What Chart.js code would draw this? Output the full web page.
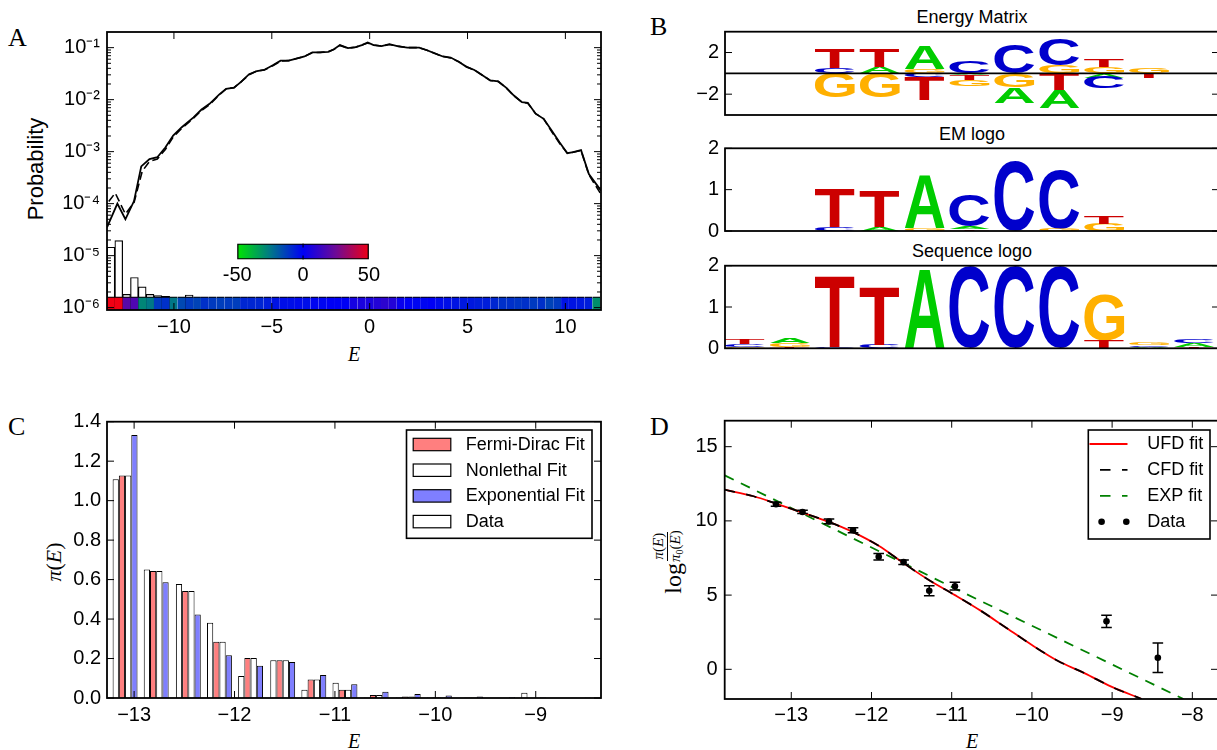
<!DOCTYPE html>
<html><head><meta charset="utf-8">
<script src="https://cdn.jsdelivr.net/npm/chart.js@4.4.1/dist/chart.umd.min.js"></script>
<style>
html,body{margin:0;padding:0;background:#fff;}
body{width:1217px;height:750px;overflow:hidden;position:relative;}
canvas{position:absolute;left:0;top:0;}
.t{position:absolute;white-space:nowrap;color:#000;}
.pl{font-family:"Liberation Serif",serif;font-size:26px;line-height:26px;}
.sans{font-family:"Liberation Sans",Arial,sans-serif;}
.serif{font-family:"Liberation Serif",serif;}
</style></head>
<body>
<div class="t pl" style="left:8px;top:25px">A</div>
<div class="t pl" style="left:650px;top:13.5px">B</div>
<div class="t pl" style="left:8px;top:414px">C</div>
<div class="t pl" style="left:650px;top:414px">D</div>
<div class="t sans" style="left:872px;width:200px;text-align:center;top:8px;font-size:18px;line-height:18px">Energy Matrix</div>
<div class="t sans" style="left:872px;width:200px;text-align:center;top:124.5px;font-size:18px;line-height:18px">EM logo</div>
<div class="t sans" style="left:872px;width:200px;text-align:center;top:242px;font-size:18px;line-height:18px">Sequence logo</div>
<div class="t serif" style="left:304px;width:100px;text-align:center;top:344.4px;font-size:20px;line-height:20px;font-style:italic">E</div>
<div class="t serif" style="left:304px;width:100px;text-align:center;top:730.7px;font-size:20px;line-height:20px;font-style:italic">E</div>
<div class="t serif" style="left:922px;width:100px;text-align:center;top:730.7px;font-size:20px;line-height:20px;font-style:italic">E</div>
<div class="t sans" style="left:-64px;top:157px;width:200px;height:24px;line-height:24px;font-size:22px;text-align:center;transform:rotate(-90deg)">Probability</div>
<div class="t serif" style="left:4px;top:549px;width:100px;height:26px;line-height:26px;font-size:22px;text-align:center;transform:rotate(-90deg)"><i>π</i>(<i>E</i>)</div>
<div class="t serif" style="left:613px;top:546px;width:120px;height:32px;transform:rotate(-90deg);display:flex;align-items:center;justify-content:center;">
<span style="font-size:24px;line-height:24px">log</span><span style="display:inline-flex;flex-direction:column;align-items:center;font-size:15px;line-height:15px;margin-left:1px;margin-top:-8px"><span style="border-bottom:1px solid #000;padding:0 1px 1px 1px"><i>π</i>(<i>E</i>)</span><span><i>π</i><span style="font-size:10px;vertical-align:-3px">0</span>(<i>E</i>)</span></span>
</div>
<script>
// ---------------- DATA ----------------
// Panel A: probability curves (E, P)
const aSolidE = [-13.42,-12.89,-12.48,-12.04,-11.67,-11.25,-10.85,-10.44,-10.04,-9.6,-9.0,-8.59,-8.18,-7.68,-7.33,-6.93,-6.57,-6.16,-5.76,-5.39,-4.95,-4.55,-4.14,-3.74,-3.33,-2.93,-2.53,-2.12,-1.82,-1.52,-1.11,-0.71,-0.40,-0.10,0.20,0.61,1.01,1.41,1.92,2.53,2.93,3.33,3.74,4.14,4.55,4.95,5.35,5.76,6.16,6.57,6.97,7.37,7.78,8.08,8.48,8.89,9.29,9.70,10.1,10.4,10.8,11.2,11.82];
const aSolidP = [3.5e-5,1.0e-4,5.0e-5,1.12e-4,5.2e-4,7.2e-4,7.8e-4,1.2e-3,2.04e-3,2.95e-3,4.57e-3,6.46e-3,8.3e-3,1.26e-2,1.62e-2,1.70e-2,2.19e-2,3.09e-2,3.55e-2,3.72e-2,4.57e-2,5.62e-2,5.62e-2,6.17e-2,6.76e-2,8.13e-2,8.13e-2,8.32e-2,9.33e-2,0.112,0.0977,0.102,0.112,0.126,0.112,0.107,0.117,0.107,0.100,0.100,0.0891,0.0776,0.0676,0.0646,0.0537,0.0427,0.0372,0.0295,0.0234,0.0224,0.0170,0.0120,0.00891,0.00871,0.00537,0.00427,0.00257,0.00151,0.000933,0.000977,0.00107,0.000372,0.000178];
const aDashE = [-13.33,-13.0,-12.48,-12.04,-11.62,-11.25,-10.85,-10.44,-10.04,-9.6,-9.0,-8.59,-8.18,-7.68,-7.33,-6.93,-6.57,-6.16,-5.76,-5.39,-4.95,-4.55,-4.14,-3.74,-3.33,-2.93,-2.53,-2.12,-1.82,-1.52,-1.11,-0.71,-0.40,-0.10,0.20,0.61,1.01,1.41,1.92,2.53,2.93,3.33,3.74,4.14,4.55,4.95,5.35,5.76,6.16,6.57,6.97,7.37,7.78,8.08,8.48,8.89,9.29,9.70,10.1,10.4,10.8,11.2,11.82];
const aDashP = [1.1e-4,1.6e-4,6.3e-5,1.05e-4,4.2e-4,6.5e-4,7.2e-4,1.1e-3,1.9e-3,2.8e-3,4.4e-3,6.2e-3,8.0e-3,1.23e-2,1.62e-2,1.70e-2,2.19e-2,3.02e-2,3.55e-2,3.72e-2,4.5e-2,5.5e-2,5.62e-2,6.17e-2,6.76e-2,8.0e-2,8.13e-2,8.32e-2,9.33e-2,0.11,0.0977,0.102,0.112,0.123,0.112,0.107,0.115,0.107,0.1,0.1,0.0891,0.0776,0.0676,0.063,0.0537,0.0427,0.0372,0.0295,0.0234,0.0224,0.0170,0.0118,0.00891,0.0085,0.00537,0.00427,0.00245,0.00145,0.000933,0.000977,0.00105,0.00036,0.000151];
// Panel A: histogram of selected sequences
const aHistE = [-13.22,-12.82,-12.42,-12.02,-11.62,-11.22,-10.82,-10.42,-9.22];
const aHistP = [1.45e-5,1.95e-5,1.8e-6,3.8e-6,2.5e-6,1.8e-6,1.7e-6,1.65e-6,1.75e-6];
// Panel A: colour strip (bin centres, value on the -50..50 colour scale)
const aStripE = [-13.22,-12.82,-12.42,-12.02,-11.62,-11.22,-10.82,-10.42,-10.02,-9.62,-9.22,-8.82,-8.42,-8.02,-7.62,-7.22,-6.82,-6.42,-6.02,-5.62,-5.22,-4.82,-4.42,-4.02,-3.62,-3.22,-2.82,-2.42,-2.02,-1.62,-1.22,-0.82,-0.42,-0.02,0.38,0.78,1.18,1.58,1.98,2.38,2.78,3.18,3.58,3.98,4.38,4.78,5.18,5.58,5.98,6.38,6.78,7.18,7.58,7.98,8.38,8.78,9.18,9.58,9.98,10.38,10.78,11.18,11.58];
const aStripV = [50,50,20,18,-28,-25,-12,-10,-25,-15,-12,-14,-10,-12,-13,-12,-13,-8,-8,-8,-6,-4,-3,-3,-2,-3,-1,-1,0,0,0,5,6,6,8,10,8,2,0,-1,-1,0,-2,-3,-4,-5,-5,-6,-6,-8,-10,-10,-11,-10,-12,-10,-14,-12,-4,-4,-5,-6,-30];
const aXTicks = [-10,-5,0,5,10];
const aYTicks = [1e-6,1e-5,1e-4,1e-3,1e-2,1e-1];
const cbRange = [-50,50];
const cbTicks = [-50,0,50];

// Panel B: logos (positions 1..11; A,C,G,T heights)
const logoPos = [1,2,3,4,5,6,7,8,9,10,11];
const emA = [0,0,0,0.57,2.17,-0.15,-1.53,-1.73,-0.4,0,0];
const emC = [0,0,0.47,0,-0.4,1.17,2.8,2.57,-1.07,0,0];
const emG = [0,0,-2.33,-2.33,0.4,-0.6,-1.3,0.73,0.63,0.5,0];
const emT = [0,0,1.87,1.77,-2.17,-0.45,0,-1.57,0.77,-0.47,0];
const lgA = [0,0,0,0.1,1.29,0.06,0,0,0,0,0];
const lgC = [0,0,0.1,0,0,0.76,1.7,1.42,0,0,0];
const lgG = [0,0,0,0,0.07,0,0,0.06,0.18,0,0];
const lgT = [0,0,0.93,0.89,0,0.04,0,0,0.19,0,0];
const sqA = [0,0.12,0,0,1.92,0,0,0,0,0.03,0.08];
const sqC = [0.06,0,0.02,0.08,0,1.99,1.99,1.98,0,0.04,0.09];
const sqG = [0.04,0.1,0,0,0,0,0,0,1.1,0.065,0];
const sqT = [0.13,0.03,1.72,1.42,0,0,0,0,0.18,0,0.04];
const emTicks = [-2,2];
const logoTicks = [0,1,2];

// Panel C: grouped histogram
const cE = [-13.09,-12.78,-12.46,-12.15,-11.84,-11.52,-11.21,-10.90,-10.59,-10.27,-9.96,-9.65,-9.33,-9.02,-8.71,-8.39];
const cData = [1.108,0.651,0.578,0.381,0.112,0.191,0.042,0.077,0.002,0.002,0.003,0.0,0.0,0.027,0.0,0.003];
const cFD   = [1.128,0.644,0.542,0.285,0.203,0.191,0.094,0.042,0.015,0.007,0.004,0.002,0.001,0.0005,0.0003,0.0002];
const cNL   = [1.128,0.644,0.542,0.285,0.203,0.191,0.094,0.042,0.015,0.007,0.004,0.002,0.001,0.0005,0.0003,0.0002];
const cEXP  = [1.333,0.587,0.423,0.216,0.163,0.183,0.117,0.070,0.032,0.020,0.013,0.008,0.004,0.002,0.001,0.0005];
const cLabels = ['Fermi-Dirac Fit','Nonlethal Fit','Exponential Fit','Data'];
const cXTicks = [-13,-12,-11,-10,-9];
const cYTicks = [0,0.2,0.4,0.6,0.8,1.0,1.2,1.4];

// Panel D: log enrichment
const dE = [-13.19,-12.86,-12.53,-12.23,-11.91,-11.60,-11.28,-10.96,-9.07,-8.43];
const dY = [11.12,10.6,9.96,9.37,7.58,7.22,5.29,5.6,3.23,0.78];
const dErr = [0.13,0.11,0.16,0.17,0.22,0.15,0.34,0.26,0.42,1.0];
const ufdE = [-13.83,-13.47,-13.19,-12.86,-12.53,-12.23,-11.91,-11.60,-11.28,-10.96,-10.63,-10.34,-10.00,-9.68,-9.34,-9.01,-8.63];
const ufdY = [12.1,11.66,11.17,10.56,9.93,9.24,8.32,7.15,6.0,5.0,3.92,2.87,1.64,0.58,-0.27,-1.17,-2.0];
const cfdE = [-13.83,-13.47,-13.19,-12.86,-12.53,-12.23,-11.91,-11.60,-11.28,-10.96,-10.63,-10.34,-10.00,-9.68,-9.34,-9.01,-8.63];
const cfdY = [12.1,11.66,11.17,10.56,9.93,9.24,8.32,7.15,6.0,5.0,3.92,2.87,1.64,0.58,-0.27,-1.17,-2.0];
const expE = [-13.83,-11.0,-8.11];
const expY = [13.07,5.55,-2.0];
const dLabels = ['UFD fit','CFD fit','EXP fit','Data'];
const dXTicks = [-13,-12,-11,-10,-9,-8];
const dYTicks = [0,5,10,15];

// ---------------- HELPERS ----------------
const W = 1240, H = 750, TICK_FONT = 20;
Chart.defaults.font.family = '"Liberation Sans", Arial, sans-serif';
Chart.defaults.font.size = TICK_FONT;
Chart.defaults.color = '#000';

function mkCanvas(){const c=document.createElement('canvas');c.width=W;c.height=H;c.style.width=W+'px';c.style.height=H+'px';document.body.appendChild(c);return c;}
const minusFmt = v => (v<0?'\u2212':'')+Math.abs(v);
function axis(type,min,max,ticks,fmt,pad,extra){
  return Object.assign({
    type,min,max,offset:false,
    grid:{display:false,drawTicks:false},border:{display:false},
    afterBuildTicks:s=>{s.ticks=ticks.map(v=>({value:v}));},
    ticks:{autoSkip:false,maxRotation:0,minRotation:0,padding:pad,callback:fmt,color:'#000',font:{size:TICK_FONT}}
  },extra||{});
}
function base(area,x,y){
  const xHidden = x.display===false, yHidden = y.display===false;
  if(!xHidden) x.afterFit = s=>{s.height = H-area[3];};
  if(!yHidden) y.afterFit = s=>{s.width = area[0];};
  return {responsive:false,animation:false,events:[],devicePixelRatio:1,
    layout:{autoPadding:false,padding:{left:yHidden?area[0]:0,top:area[1],right:W-area[2],bottom:xHidden?H-area[3]:0}},
    plugins:{legend:{display:false},tooltip:{enabled:false},title:{display:false}},
    scales:{x,y}};
}
function frame(o){
  return {id:'frame',afterDraw(chart){
    const {ctx,chartArea:a,scales}=chart;const xs=scales.x,ys=scales.y;
    ctx.save();ctx.strokeStyle='#000';
    const seg=(x1,y1,x2,y2)=>{ctx.beginPath();ctx.moveTo(x1,y1);ctx.lineTo(x2,y2);ctx.stroke();};
    if(o.zero){ctx.lineWidth=1.8;const p=ys.getPixelForValue(0);seg(a.left,p,a.right,p);}
    ctx.lineWidth=1;const L=o.len||7,m=o.minorLen||4;
    (o.xt||[]).forEach(v=>{const p=xs.getPixelForValue(v);seg(p,a.bottom,p,a.bottom-L);seg(p,a.top,p,a.top+L);});
    (o.yt||[]).forEach(v=>{const p=ys.getPixelForValue(v);seg(a.left,p,a.left+L,p);seg(a.right,p,a.right-L,p);});
    (o.ym||[]).forEach(v=>{const p=ys.getPixelForValue(v);seg(a.left,p,a.left+m,p);seg(a.right,p,a.right-m,p);});
    ctx.lineWidth=o.lw||1.8;ctx.strokeRect(a.left,a.top,a.right-a.left,a.bottom-a.top);
    ctx.restore();
  }};
}
function boxLegend(o){
  return {id:'boxLegend',afterDraw(chart){
    const c=chart.ctx;c.save();
    c.fillStyle='#fff';c.fillRect(o.x,o.y,o.w,o.h);
    c.lineWidth=1.6;c.strokeStyle='#000';c.strokeRect(o.x,o.y,o.w,o.h);
    c.font='18px "Liberation Sans", Arial, sans-serif';c.textBaseline='middle';c.textAlign='left';
    o.items.forEach((it,i)=>{
      const cy=o.y0+i*o.dy;
      if(it.kind==='rect'){c.fillStyle=it.fill;c.fillRect(o.sx,cy-6.2,o.sw,12.4);c.lineWidth=1.2;c.strokeStyle='#000';c.strokeRect(o.sx,cy-6.2,o.sw,12.4);}
      else if(it.kind==='line'){c.strokeStyle=it.color;c.lineWidth=1.8;c.setLineDash(it.dash||[]);c.lineDashOffset=it.offset||0;c.beginPath();c.moveTo(o.sx,cy);c.lineTo(o.sx+o.sw,cy);c.stroke();c.setLineDash([]);}
      else if(it.kind==='dots'){c.fillStyle='#000';it.xs.forEach(x=>{c.beginPath();c.arc(x,cy,3.3,0,2*Math.PI);c.fill();});}
      c.fillStyle='#000';c.fillText(it.label,o.tx,cy+0.5);
    });
    c.restore();
  }};
}
// colour map for the heat strip
const cmapStops=[-50,-25,0,25,50];
const cmapCols=[[0,230,0],[0,120,135],[0,0,245],[110,10,150],[240,0,20]];
function cmap(v){
  v=Math.max(-50,Math.min(50,v));
  for(let i=0;i<cmapStops.length-1;i++){
    if(v<=cmapStops[i+1]){const t=(v-cmapStops[i])/(cmapStops[i+1]-cmapStops[i]);const a=cmapCols[i],b=cmapCols[i+1];
      return 'rgb('+a.map((x,k)=>Math.round(x+(b[k]-x)*t)).join(',')+')';}
  }
  return 'rgb(240,0,20)';
}
const supMap={'-':'\u207B','0':'\u2070','1':'\u00B9','2':'\u00B2','3':'\u00B3','4':'\u2074','5':'\u2075','6':'\u2076','7':'\u2077'};
const logFmt=v=>'10'+String(Math.round(Math.log10(v))).split('').map(ch=>supMap[ch]).join('');

// ---------------- PANEL A ----------------
const A_AREA=[107,32,601,310], A_YMIN=9e-7, A_YMAX=0.2, STRIP_TOP=1.62e-6;
const aMinor=[];
[1e-7,1e-6,1e-5,1e-4,1e-3,1e-2,1e-1].forEach(d=>{for(let k=2;k<=9;k++){const v=d*k;if(v>A_YMIN&&v<A_YMAX)aMinor.push(v);}});
new Chart(mkCanvas(),{
  type:'bar',
  data:{datasets:[
    {type:'line',data:aSolidE.map((e,i)=>({x:e,y:aSolidP[i]})),borderColor:'#000',borderWidth:1.8,pointRadius:0,fill:false},
    {type:'line',data:aDashE.map((e,i)=>({x:e,y:aDashP[i]})),borderColor:'#000',borderWidth:1.6,borderDash:[8,4],pointRadius:0,fill:false},
    {type:'bar',data:aStripE.map(e=>({x:e,y:[A_YMIN,STRIP_TOP]})),backgroundColor:aStripV.map(cmap),borderColor:'#000',borderWidth:{top:1.4,left:0,right:0,bottom:0},grouped:false,barPercentage:1,categoryPercentage:1},
    {type:'bar',data:aHistE.map((e,i)=>({x:e,y:[A_YMIN,aHistP[i]]})),backgroundColor:'#fff',borderColor:'#000',borderWidth:1.2,grouped:false,barPercentage:1,categoryPercentage:1}
  ]},
  options:base(A_AREA,axis('linear',-13.42,11.82,aXTicks,minusFmt,5),axis('logarithmic',A_YMIN,A_YMAX,aYTicks,logFmt,7)),
  plugins:[frame({xt:aXTicks,yt:aYTicks,ym:aMinor})]
});
// colour bar legend
const CB_AREA=[237.2,243.5,368.9,259.5];
new Chart(mkCanvas(),{
  type:'bar',
  data:{labels:[''],datasets:[{data:[cbRange],borderColor:'#000',borderWidth:1.6,borderSkipped:false,barPercentage:1,categoryPercentage:1,
    backgroundColor:(c)=>{const ca=c.chart.chartArea;if(!ca)return '#00f';const g=c.chart.ctx.createLinearGradient(ca.left,0,ca.right,0);
      cmapStops.forEach(v=>g.addColorStop((v-cbRange[0])/(cbRange[1]-cbRange[0]),cmap(v)));return g;}}]},
  options:Object.assign(base(CB_AREA,axis('linear',cbRange[0],cbRange[1],cbTicks,v=>String(v),3.5),{type:'category',display:false}),{indexAxis:'y'}),
  plugins:[{id:'cbtick',afterDraw(chart){const {ctx,chartArea:a,scales}=chart;const p=scales.x.getPixelForValue(0);ctx.save();ctx.strokeStyle='#000';ctx.lineWidth=1;ctx.beginPath();ctx.moveTo(p,a.bottom);ctx.lineTo(p,a.bottom-4);ctx.moveTo(p,a.top);ctx.lineTo(p,a.top+4);ctx.stroke();ctx.restore();}}]
});

// ---------------- PANEL B ----------------
const baseCols={A:'#00cc00',C:'#0000cc',G:'#ffb000',T:'#cc0000'};
const bases=['A','C','G','T'];
function stackLogo(h){
  const out={A:[],C:[],G:[],T:[]};
  logoPos.forEach((p,i)=>{
    const up=bases.filter(b=>h[b][i]>0).sort((a,b)=>h[a][i]-h[b][i]);
    let acc=0;up.forEach(b=>{out[b].push({x:p,y:[acc,acc+h[b][i]]});acc+=h[b][i];});
    const dn=bases.filter(b=>h[b][i]<0).sort((a,b)=>h[b][i]-h[a][i]);
    acc=0;dn.forEach(b=>{out[b].push({x:p,y:[acc+h[b][i],acc]});acc+=h[b][i];});
  });
  return out;
}
function drawGlyph(ctx,ch,color,x,y,w,h){
  ctx.save();ctx.font='bold 100px "Liberation Sans", Arial, sans-serif';ctx.textAlign='left';ctx.textBaseline='alphabetic';
  const m=ctx.measureText(ch);const gl=m.actualBoundingBoxLeft,gr=m.actualBoundingBoxRight,ga=m.actualBoundingBoxAscent,gd=m.actualBoundingBoxDescent;
  ctx.translate(x,y);ctx.scale(w/(gl+gr),h/(ga+gd));ctx.fillStyle=color;ctx.fillText(ch,gl,ga);ctx.restore();
}
const lettersPlugin={id:'letters',afterDatasetsDraw(chart){
  const ctx=chart.ctx;ctx.save();
  ctx.beginPath();ctx.rect(chart.chartArea.left,chart.chartArea.top,chart.chartArea.right-chart.chartArea.left,chart.chartArea.bottom-chart.chartArea.top);ctx.clip();
  chart.data.datasets.forEach((ds,di)=>{
    chart.getDatasetMeta(di).data.forEach(el=>{
      const {x,y,base:b,width}=el.getProps(['x','y','base','width'],true);
      const top=Math.min(y,b),h=Math.abs(b-y);if(h<0.4)return;
      drawGlyph(ctx,ds.letter,baseCols[ds.letter],x-width/2,top,width,h);
    });
  });
  ctx.restore();
}};
function logoChart(area,h,ymin,ymax,yt,zero){
  const st=stackLogo(h);
  new Chart(mkCanvas(),{
    type:'bar',
    data:{datasets:bases.map(b=>({letter:b,data:st[b],backgroundColor:'rgba(0,0,0,0)',borderWidth:0,grouped:false,barPercentage:1,categoryPercentage:0.89}))},
    options:base(area,axis('linear',0.555,11.555,logoPos,v=>'',0,{display:false}),axis('linear',ymin,ymax,yt,minusFmt,6)),
    plugins:[lettersPlugin,frame({yt:yt,zero:zero})]
  });
}
logoChart([725,31.7,1219,115],{A:emA,C:emC,G:emG,T:emT},-4,4,emTicks,true);
logoChart([725,148.3,1219,231],{A:lgA,C:lgC,G:lgG,T:lgT},0,2,logoTicks,false);
logoChart([725,265.7,1219,348.3],{A:sqA,C:sqC,G:sqG,T:sqT},0,2,logoTicks,false);

// ---------------- PANEL C ----------------
const C_AREA=[107,421.7,601,698];
const cbar=(vals,fill)=>({data:cE.map((e,i)=>({x:e,y:vals[i]})),backgroundColor:fill,borderColor:'#000',borderWidth:1,barPercentage:1,categoryPercentage:0.8});
new Chart(mkCanvas(),{
  type:'bar',
  data:{datasets:[cbar(cData,'#ffffff'),cbar(cFD,'#ff7f7f'),cbar(cNL,'#ffffff'),cbar(cEXP,'#7f7fff')]},
  options:base(C_AREA,axis('linear',-13.27,-8.35,cXTicks,minusFmt,5),axis('linear',0,1.4,cYTicks,v=>v.toFixed(1),6)),
  plugins:[frame({xt:cXTicks,yt:cYTicks}),boxLegend({x:406.5,y:430,w:185.5,h:108.3,sx:413.2,sw:37.6,tx:465.8,y0:444.5,dy:25.7,
    items:[{kind:'rect',fill:'#ff7f7f',label:cLabels[0]},{kind:'rect',fill:'#ffffff',label:cLabels[1]},{kind:'rect',fill:'#7f7fff',label:cLabels[2]},{kind:'rect',fill:'#ffffff',label:cLabels[3]}]})]
});

// ---------------- PANEL D ----------------
const D_AREA=[724.7,420.7,1218,699];
const errPlugin={id:'err',afterDatasetsDraw(chart){
  const {ctx,scales:{x,y}}=chart;ctx.save();ctx.strokeStyle='#000';ctx.lineWidth=1.5;
  dE.forEach((e,i)=>{const px=x.getPixelForValue(e),t=y.getPixelForValue(dY[i]+dErr[i]),b=y.getPixelForValue(dY[i]-dErr[i]);
    ctx.beginPath();ctx.moveTo(px,t);ctx.lineTo(px,b);ctx.moveTo(px-5.3,t);ctx.lineTo(px+5.3,t);ctx.moveTo(px-5.3,b);ctx.lineTo(px+5.3,b);ctx.stroke();});
  ctx.restore();
}};
new Chart(mkCanvas(),{
  type:'line',
  data:{datasets:[
    {label:dLabels[3],data:dE.map((e,i)=>({x:e,y:dY[i]})),showLine:false,pointRadius:3.3,pointBackgroundColor:'#000',pointBorderColor:'#000',pointBorderWidth:0},
    {label:dLabels[1],data:cfdE.map((e,i)=>({x:e,y:cfdY[i]})),borderColor:'#000',borderWidth:1.8,borderDash:[10.5,11.5],pointRadius:0,cubicInterpolationMode:'monotone'},
    {label:dLabels[0],data:ufdE.map((e,i)=>({x:e,y:ufdY[i]})),borderColor:'#ff0000',borderWidth:1.8,pointRadius:0,cubicInterpolationMode:'monotone'},
    {label:dLabels[2],data:expE.map((e,i)=>({x:e,y:expY[i]})),borderColor:'#008000',borderWidth:1.8,borderDash:[10,8],pointRadius:0}
  ]},
  options:base(D_AREA,axis('linear',-13.83,-7.68,dXTicks,minusFmt,4.8),axis('linear',-2,16.75,dYTicks,v=>String(v),7)),
  plugins:[errPlugin,frame({xt:dXTicks,yt:dYTicks}),boxLegend({x:1088.3,y:430,w:121.7,h:109,sx:1089.5,sw:38,tx:1147.3,y0:444,dy:25.9,
    items:[{kind:'line',color:'#ff0000',label:dLabels[0]},{kind:'line',color:'#000',dash:[10.5,11.5],offset:11.5,label:dLabels[1]},{kind:'line',color:'#008000',dash:[10.5,11.5],offset:11.5,label:dLabels[2]},{kind:'dots',xs:[1101.6,1126.3],label:dLabels[3]}]})]
});
</script>
</body></html>
